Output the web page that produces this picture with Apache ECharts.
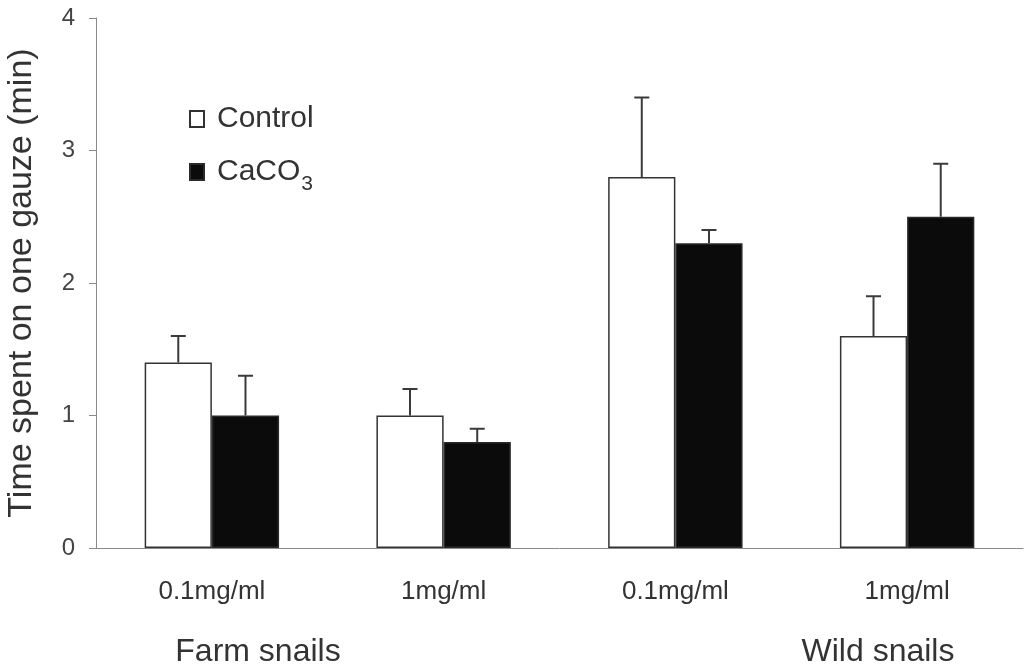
<!DOCTYPE html>
<html>
<head>
<meta charset="utf-8">
<script src="https://cdn.jsdelivr.net/npm/echarts@6/dist/echarts.min.js"></script>
<style>
  html, body { margin: 0; padding: 0; background: #ffffff; }
  #chart { width: 1028px; height: 665px; }
</style>
</head>
<body>
<div id="chart"></div>
<script>
// Concentration categories (first two: farm snails, last two: wild snails)
const categories = ['0.1mg/ml', '1mg/ml', '0.1mg/ml', '1mg/ml'];
const groupLabels = ['Farm snails', 'Wild snails'];
const yTicks = [0, 1, 2, 3, 4];

// Mean time (min) and standard error for each treatment
const controlMean = [1.4, 1.0, 2.8, 1.6];
const controlErr  = [0.2, 0.2, 0.6, 0.3];
const caco3Mean   = [1.0, 0.8, 2.3, 2.5];
const caco3Err    = [0.3, 0.1, 0.1, 0.4];

const FONT = "'Liberation Sans', Arial, sans-serif";
const TEXT = '#333333';
const AXIS = '#8a8a8a';
const BAR_FRACTION = 0.29;

// Upward error bar with a short cap, offset to sit over its bar
function errorBar(side) {
  return function (params, api) {
    const idx = api.value(0);
    const mean = api.value(1);
    const top = mean + api.value(2);
    const band = api.size([1, 0])[0];
    const dx = side * band * BAR_FRACTION / 2;
    const base = api.coord([idx, mean]);
    const tip = api.coord([idx, top]);
    const x = base[0] + dx;
    const style = { stroke: '#3a3a3a', lineWidth: 2 };
    return {
      type: 'group',
      children: [
        { type: 'line', shape: { x1: x, y1: base[1], x2: x, y2: tip[1] }, style: style },
        { type: 'line', shape: { x1: x - 7.5, y1: tip[1], x2: x + 7.5, y2: tip[1] }, style: style }
      ]
    };
  };
}

const chart = echarts.init(document.getElementById('chart'), null, { renderer: 'canvas' });

chart.setOption({
  backgroundColor: '#ffffff',
  animation: false,
  grid: { left: 96, right: 5, top: 18, bottom: 117, containLabel: false, outerBoundsMode: 'none' },
  legend: {
    orient: 'vertical',
    left: 184,
    top: 99,
    itemWidth: 14,
    itemHeight: 16,
    itemGap: 23,
    icon: 'rect',
    data: ['Control', 'CaCO3'],
    formatter: function (name) {
      return name === 'CaCO3' ? 'CaCO{sub|3}' : name;
    },
    textStyle: {
      fontFamily: FONT,
      fontSize: 30,
      color: TEXT,
      padding: [0, 0, 0, 8],
      rich: {
        sub: { fontFamily: FONT, fontSize: 21, color: TEXT, padding: [24, 0, 0, 1] }
      }
    }
  },
  xAxis: {
    type: 'category',
    data: categories,
    axisLine: { lineStyle: { color: AXIS, width: 1 } },
    axisTick: { length: 7, lineStyle: { color: AXIS } },
    axisLabel: { fontFamily: FONT, fontSize: 26, color: TEXT, margin: 31 }
  },
  yAxis: {
    type: 'value',
    min: 0,
    max: 4,
    interval: 1,
    name: 'Time spent on one gauze (min)',
    nameLocation: 'middle',
    nameRotate: 90,
    nameGap: 57,
    nameTextStyle: { fontFamily: FONT, fontSize: 34, color: TEXT },
    axisLine: { show: true, lineStyle: { color: AXIS, width: 1 } },
    axisTick: { show: true, length: 7, lineStyle: { color: AXIS } },
    splitLine: { show: false },
    axisLabel: {
      fontFamily: FONT, fontSize: 24, color: '#444444', margin: 21,
      formatter: function (v) { return yTicks.indexOf(v) >= 0 ? String(v) : ''; }
    }
  },
  series: [
    {
      name: 'Control',
      type: 'bar',
      data: controlMean,
      barWidth: (BAR_FRACTION * 100) + '%',
      barGap: '0%',
      itemStyle: { color: '#ffffff', borderColor: '#333333', borderWidth: 1.5 }
    },
    {
      name: 'CaCO3',
      type: 'bar',
      data: caco3Mean,
      barWidth: (BAR_FRACTION * 100) + '%',
      barGap: '0%',
      itemStyle: { color: '#0b0b0b', borderColor: '#2a2a2a', borderWidth: 1.5 }
    },
    {
      type: 'custom',
      renderItem: errorBar(-1),
      data: controlMean.map((m, i) => [i, m, controlErr[i]]),
      z: 3
    },
    {
      type: 'custom',
      renderItem: errorBar(1),
      data: caco3Mean.map((m, i) => [i, m, caco3Err[i]]),
      z: 3
    }
  ],
  graphic: [
    { type: 'text', x: 258, y: 652, style: { text: groupLabels[0], fontFamily: FONT, fontSize: 32, fill: TEXT, align: 'center', verticalAlign: 'middle' } },
    { type: 'text', x: 878, y: 652, style: { text: groupLabels[1], fontFamily: FONT, fontSize: 32, fill: TEXT, align: 'center', verticalAlign: 'middle' } }
  ]
});
</script>
</body>
</html>
